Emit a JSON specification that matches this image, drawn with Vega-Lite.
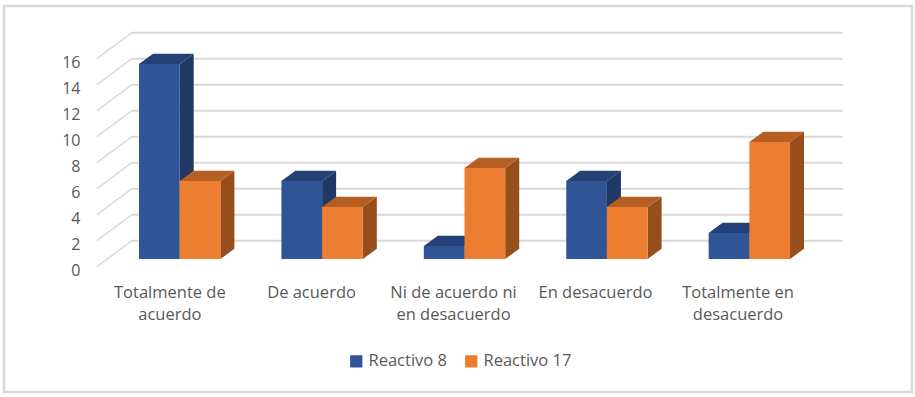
{
"$schema":"https://vega.github.io/schema/vega-lite/v6.json",
"width":908,"height":386,
"autosize":{"type":"none"},
"padding":{"left":4,"top":6,"right":3,"bottom":5},
"background":"#ffffff",
"config":{"view":{"stroke":"#d9d9d9","strokeWidth":2.5},"font":"Open Sans"},
"datasets":{
"bars":[
{"categoria":"Totalmente de acuerdo","orden":0,"serie":"Reactivo 8","valor":15},
{"categoria":"De acuerdo","orden":1,"serie":"Reactivo 8","valor":6},
{"categoria":"Ni de acuerdo ni en desacuerdo","orden":2,"serie":"Reactivo 8","valor":1},
{"categoria":"En desacuerdo","orden":3,"serie":"Reactivo 8","valor":6},
{"categoria":"Totalmente en desacuerdo","orden":4,"serie":"Reactivo 8","valor":2},
{"categoria":"Totalmente de acuerdo","orden":0,"serie":"Reactivo 17","valor":6},
{"categoria":"De acuerdo","orden":1,"serie":"Reactivo 17","valor":4},
{"categoria":"Ni de acuerdo ni en desacuerdo","orden":2,"serie":"Reactivo 17","valor":7},
{"categoria":"En desacuerdo","orden":3,"serie":"Reactivo 17","valor":4},
{"categoria":"Totalmente en desacuerdo","orden":4,"serie":"Reactivo 17","valor":9}
],
"grid":[{"v":0},{"v":2},{"v":4},{"v":6},{"v":8},{"v":10},{"v":12},{"v":14},{"v":16}]
},
"layer":[
{"data":{"name":"grid"},
"transform":[{"calculate":"datum.v+1.41","as":"back"},{"calculate":"datum.v-0.59","as":"front"}],
"layer":[
{"mark":{"type":"rule","color":"#d9d9d9","strokeWidth":2},
"encoding":{
"x":{"datum":-0.049,"type":"quantitative","scale":{"domain":[-0.948,5.428],"nice":false,"zero":false},
"axis":{"title":null,"orient":"bottom","offset":-108,"values":[0.213,1.208,2.205,3.202,4.203],"grid":false,"ticks":false,"domain":false,"labelPadding":0,"labelFontSize":16.5,"labelColor":"#595959","labelLineHeight":22.5,"labelOverlap":false,"labelFlush":false,"labelBound":false,"labelAlign":"center","labelBaseline":"top","labelExpr":"split(['Totalmente de|acuerdo','De acuerdo','Ni de acuerdo ni|en desacuerdo','En desacuerdo','Totalmente en|desacuerdo'][round(datum.value)],'|')"}},
"x2":{"datum":4.944},
"y":{"field":"back","type":"quantitative","scale":{"domain":[-10.2308,19.4615],"nice":false,"zero":false},
"axis":{"title":null,"orient":"left","offset":-76,"values":[-0.85,1.15,3.15,5.15,7.15,9.15,11.15,13.15,15.15],"grid":false,"ticks":false,"domain":false,"labelPadding":0,"labelFontSize":16,"labelColor":"#595959","labelOverlap":false,"labelBound":false,"labelExpr":"format(round(datum.value+0.85),'d')"}}
}},
{"mark":{"type":"rule","color":"#d9d9d9","strokeWidth":1.5},
"encoding":{
"x":{"datum":-0.295,"type":"quantitative","scale":{"domain":[-0.948,5.428],"nice":false,"zero":false},"axis":{"title":null}},
"x2":{"datum":-0.049},
"y":{"field":"front","type":"quantitative","scale":{"domain":[-10.2308,19.4615],"nice":false,"zero":false},"axis":{"title":null}},
"y2":{"field":"back"}
}}
]},
{"data":{"name":"bars"},
"transform":[
{"filter":"datum.serie==='Reactivo 8'"},
{"calculate":"datum.orden","as":"x0"},
{"calculate":"datum.x0+0.2858","as":"x1"}
],
"layer":[
{"transform":[{"calculate":"[0,1]","as":"t"},{"flatten":["t"]},{"calculate":"datum.x1+datum.t*0.0983","as":"sx"},{"calculate":"datum.valor+datum.t*0.79","as":"sy"},{"calculate":"datum.t*0.79","as":"sy2"}],
"mark":{"type":"area","color":"#1f3864","interpolate":"linear"},
"encoding":{"detail":{"field":"categoria"},
"x":{"field":"sx","type":"quantitative","scale":{"domain":[-0.948,5.428],"nice":false,"zero":false},"axis":{"title":null}},
"y":{"field":"sy","type":"quantitative","scale":{"domain":[-10.2308,19.4615],"nice":false,"zero":false},"axis":{"title":null}},
"y2":{"field":"sy2"}}},
{"transform":[{"calculate":"[0,1]","as":"t"},{"flatten":["t"]},{"calculate":"datum.x0+datum.t*0.0983","as":"tx"},{"calculate":"datum.x1+datum.t*0.0983","as":"tx2"},{"calculate":"datum.valor+datum.t*0.79","as":"ty"}],
"mark":{"type":"area","color":"#234176","orient":"horizontal","interpolate":"linear"},
"encoding":{"detail":{"field":"categoria"},
"y":{"field":"ty","type":"quantitative","scale":{"domain":[-10.2308,19.4615],"nice":false,"zero":false},"axis":{"title":null}},
"x":{"field":"tx","type":"quantitative","scale":{"domain":[-0.948,5.428],"nice":false,"zero":false},"axis":{"title":null}},
"x2":{"field":"tx2"}}},
{"mark":{"type":"rect"},
"encoding":{
"x":{"field":"x0","type":"quantitative","scale":{"domain":[-0.948,5.428],"nice":false,"zero":false},"axis":{"title":null}},
"x2":{"field":"x1"},
"y":{"field":"valor","type":"quantitative","scale":{"domain":[-10.2308,19.4615],"nice":false,"zero":false},"axis":{"title":null}},
"y2":{"datum":0},
"color":{"field":"serie","type":"nominal","scale":{"domain":["Reactivo 8","Reactivo 17"],"range":["#2f5597","#ed7d31"]},
"legend":{"title":null,"orient":"none","legendX":344,"legendY":347,"direction":"horizontal","symbolType":"square","symbolSize":150,"symbolStrokeWidth":0,"labelFontSize":16.5,"labelColor":"#595959","labelOffset":4,"columnPadding":16}}}}
]},
{"data":{"name":"bars"},
"transform":[
{"filter":"datum.serie==='Reactivo 17'"},
{"calculate":"datum.orden+0.2858","as":"x0"},
{"calculate":"datum.x0+0.2858","as":"x1"}
],
"layer":[
{"transform":[{"calculate":"[0,1]","as":"t"},{"flatten":["t"]},{"calculate":"datum.x1+datum.t*0.0983","as":"sx"},{"calculate":"datum.valor+datum.t*0.79","as":"sy"},{"calculate":"datum.t*0.79","as":"sy2"}],
"mark":{"type":"area","color":"#964f1c","interpolate":"linear"},
"encoding":{"detail":{"field":"categoria"},
"x":{"field":"sx","type":"quantitative","scale":{"domain":[-0.948,5.428],"nice":false,"zero":false},"axis":{"title":null}},
"y":{"field":"sy","type":"quantitative","scale":{"domain":[-10.2308,19.4615],"nice":false,"zero":false},"axis":{"title":null}},
"y2":{"field":"sy2"}}},
{"transform":[{"calculate":"[0,1]","as":"t"},{"flatten":["t"]},{"calculate":"datum.x0+datum.t*0.0983","as":"tx"},{"calculate":"datum.x1+datum.t*0.0983","as":"tx2"},{"calculate":"datum.valor+datum.t*0.79","as":"ty"}],
"mark":{"type":"area","color":"#b56022","orient":"horizontal","interpolate":"linear"},
"encoding":{"detail":{"field":"categoria"},
"y":{"field":"ty","type":"quantitative","scale":{"domain":[-10.2308,19.4615],"nice":false,"zero":false},"axis":{"title":null}},
"x":{"field":"tx","type":"quantitative","scale":{"domain":[-0.948,5.428],"nice":false,"zero":false},"axis":{"title":null}},
"x2":{"field":"tx2"}}},
{"mark":{"type":"rect"},
"encoding":{
"x":{"field":"x0","type":"quantitative","scale":{"domain":[-0.948,5.428],"nice":false,"zero":false},"axis":{"title":null}},
"x2":{"field":"x1"},
"y":{"field":"valor","type":"quantitative","scale":{"domain":[-10.2308,19.4615],"nice":false,"zero":false},"axis":{"title":null}},
"y2":{"datum":0},
"color":{"field":"serie","type":"nominal","scale":{"domain":["Reactivo 8","Reactivo 17"],"range":["#2f5597","#ed7d31"]},
"legend":{"title":null,"orient":"none","legendX":344,"legendY":347,"direction":"horizontal","symbolType":"square","symbolSize":150,"symbolStrokeWidth":0,"labelFontSize":16.5,"labelColor":"#595959","labelOffset":4,"columnPadding":16}}}}
]}
]
}
